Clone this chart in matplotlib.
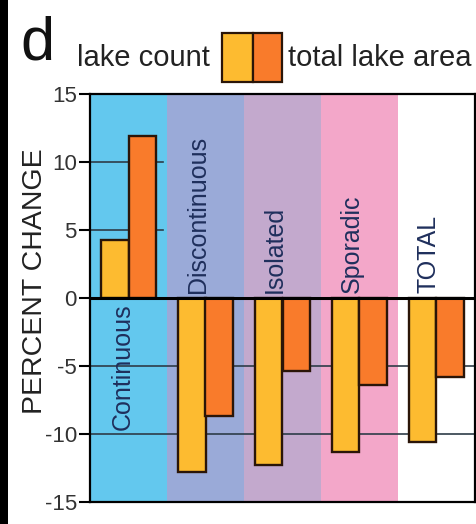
import matplotlib
matplotlib.use("Agg")
import matplotlib.pyplot as plt
from matplotlib.patches import Rectangle
import numpy as np

plt.rcParams["font.family"] = ["Liberation Sans", "DejaVu Sans"]

# permafrost zones and percent change per zone
zones = ["Continuous", "Discontinuous", "Isolated", "Sporadic", "TOTAL"]
lake_count = [4.3, -12.8, -12.3, -11.3, -10.6]
lake_area = [11.9, -8.7, -5.4, -6.4, -5.8]
yticks = [15, 10, 5, 0, -5, -10, -15]

zone_colors = ["#63c8ee", "#9aaad8", "#c3a9cd", "#f3a7c9", "#ffffff"]
count_color = "#fdbb30"
area_color = "#f97b2b"
edge = "#2a1508"
label_color = "#1f2f5c"

fig = plt.figure(figsize=(4.77, 5.24), dpi=100)
ax = fig.add_axes([90 / 477, 1 - 502 / 524, 385 / 477, 408 / 524])

x = np.arange(len(zones))
w = 0.36

# coloured zone backgrounds
for i, c in enumerate(zone_colors):
    ax.axvspan(i - 0.5, i + 0.5, color=c, lw=0, zorder=0)

# reference lines
grid_c = "#2d3c48"
for v in [10, 5]:
    ax.axhline(v, xmin=0, xmax=0.19, color=grid_c, lw=1.2, zorder=1)
for v in [-5, -10]:
    ax.axhline(v, color=grid_c, lw=1.2, zorder=1)

ax.bar(x - w / 2, lake_count, width=w, color=count_color, edgecolor=edge,
       linewidth=1.7, zorder=3)
ax.bar(x + w / 2, lake_area, width=w, color=area_color, edgecolor=edge,
       linewidth=1.7, zorder=3)
ax.axhline(0, color="black", lw=2.2, zorder=4)

# zone names
for i, name in enumerate(zones):
    if lake_count[i] > 0:
        ax.text(i - 0.08, -0.4, name, rotation=90, ha="center", va="top",
                fontsize=18, color=label_color, zorder=2)
    else:
        ax.text(i - 0.1, 0.4, name, rotation=90, ha="center", va="bottom",
                fontsize=18, color=label_color, zorder=2)

ax.set_xlim(-0.5, 4.5)
ax.set_ylim(-15, 15)
ax.set_yticks(yticks)
ax.set_yticklabels([str(t) for t in yticks])
ax.set_xticks([])
ax.tick_params(axis="y", direction="out", length=8, width=1.5, pad=1.5,
               labelsize=16, labelcolor="#333333")
for s in ax.spines.values():
    s.set_linewidth(1.6)
    s.set_color("black")
    s.set_zorder(5)

# y label, panel letter and legend
fig.text(35 / 477, 1 - 281 / 524, "PERCENT CHANGE", rotation=90,
         ha="center", va="center", fontsize=20.5, color="#222222")
fig.text(20 / 477, 1 - 60 / 524, "d", ha="left", va="baseline",
         fontsize=44, color="#111111")
fig.text(77 / 477, 1 - 66 / 524, "lake count", ha="left", va="baseline",
         fontsize=21, color="#222222")
fig.text(288 / 477, 1 - 66 / 524, "total lake area", ha="left",
         va="baseline", fontsize=21, color="#222222")
fig.patches.append(Rectangle((222 / 477, 1 - 82 / 524), 31 / 477, 49 / 524,
                             transform=fig.transFigure, facecolor=count_color,
                             edgecolor=edge, lw=1.6))
fig.patches.append(Rectangle((253 / 477, 1 - 82 / 524), 29 / 477, 49 / 524,
                             transform=fig.transFigure, facecolor=area_color,
                             edgecolor=edge, lw=1.6))

# black strip along the left edge
fig.patches.append(Rectangle((0, 0), 8 / 477, 1, transform=fig.transFigure,
                             facecolor="black", lw=0))

fig.savefig("out.png", dpi=100)
